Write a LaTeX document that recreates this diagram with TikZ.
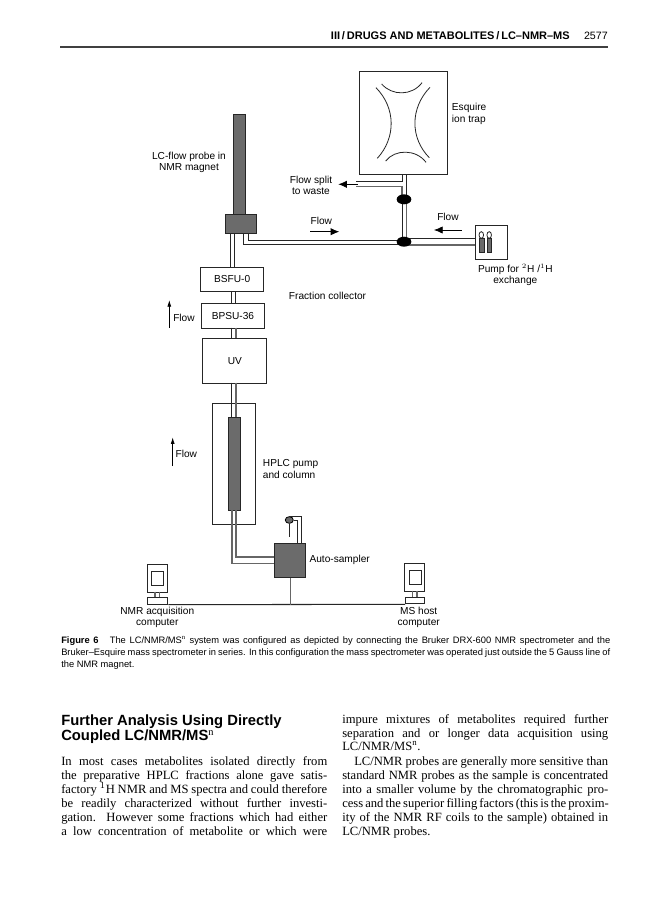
\documentclass[tikz,border=0pt]{standalone}
\usepackage{fontspec}
\setmainfont{Liberation Serif}
\setsansfont{Liberation Sans}
\newfontfamily\labfont{Liberation Sans}
\newdimen\pxunit \pxunit=0.75pt
\usetikzlibrary{arrows.meta,calc,shapes.geometric}
\tikzset{
  x=0.75pt,y=-0.75pt,
  pipe/.style={draw=black!85,line width=0.7pt},
  greypipe/.style={draw=black!60,line width=0.8pt},
  box/.style={draw=black!85,line width=0.75pt,fill=white,inner sep=0pt,rectangle,anchor=north west},
  dark/.style={draw=black!85,line width=0.75pt,fill=black!58,inner sep=0pt,rectangle,anchor=north west},
  lab/.style={font=\labfont\fontsize{7.6}{8.6}\selectfont,align=center,inner sep=0pt},
  labl/.style={lab,anchor=west,align=left},
  flowarrow/.style={draw=black,line width=0.6pt,-{Latex[length=6.5pt,width=5.5pt]}},
  thinarrow/.style={draw=black,line width=0.6pt,-{Latex[length=5pt,width=3pt]}},
  joint/.style={ellipse,fill=black,inner sep=0pt,minimum width=11pt,minimum height=7.5pt},
  arc/.style={draw=black!85,line width=0.6pt},
  bodyline/.style={anchor=base west,inner sep=0pt,font=\fontsize{9.45}{12}\selectfont},
  headline/.style={anchor=base west,inner sep=0pt,font=\sffamily\bfseries\fontsize{11.1}{13}\selectfont},
  capline/.style={anchor=base west,inner sep=0pt,font=\sffamily\fontsize{7}{8}\selectfont},
}
\newcommand{\bx}[6][box]{\node[#1,minimum width=#4*0.75pt,minimum height=#5*0.75pt] (#6) at (#2,#3) {};}
\begin{document}
\begin{tikzpicture}
\useasboundingbox (0,0) rectangle (668,900);
\fill[white] (0,0) rectangle (668,900);

% running head
\node[anchor=base east,inner sep=0pt,font=\sffamily\bfseries\fontsize{8.25}{9}\selectfont] (head) at (570,39.5) {III\,/\,DRUGS AND METABOLITES\,/\,LC--NMR--MS};
\node[anchor=base east,inner sep=0pt,font=\sffamily\fontsize{8}{9}\selectfont] (pageno) at (608,39.5) {2577};
\draw[draw=black!75,line width=0.9pt] (60,47) -- (608,47);

% ion trap
\bx{359.3}{70.7}{87.7}{103.6}{trap}
\draw[arc] (381.7,84) .. controls (392,96) and (412,96) .. (422,82.7);
\draw[arc] (376,87.7) .. controls (396,108) and (396,138) .. (377.3,158.3);
\draw[arc] (430,87.3) .. controls (410,108) and (410,138) .. (429.3,157.7);
\draw[arc] (385.7,161) .. controls (395,149) and (416,149) .. (426,162.3);
\node[labl] (esq) at (451.7,114) {Esquire\\ion trap};

% pump
\bx{475.3}{224.7}{31.4}{34}{pump}
\bx[dark]{479}{238.3}{4.6}{13.4}{vial1}
\bx[dark]{487}{238.3}{4.4}{13.4}{vial2}
\node[draw=black!85,ellipse,line width=0.6pt,inner sep=0pt,minimum width=3.4pt,minimum height=5pt] (vt1) at (481.3,235) {};
\node[draw=black!85,ellipse,line width=0.6pt,inner sep=0pt,minimum width=3.4pt,minimum height=5pt] (vt2) at (489.2,235) {};
\node[lab] (pumplab) at (515.3,275) {Pump for $^{2}$H /$^{1}$H\\exchange};

% probe
\bx[dark]{232.7}{114}{12.3}{100.3}{probe}
\bx[dark]{225}{214.3}{30.7}{18.7}{head2}
\node[lab] (probelab) at (189,162.5) {LC-flow probe in\\NMR magnet};

% boxes
\bx{200.3}{266.7}{62.7}{24.3}{bsfu}
\bx{201.3}{302.7}{62.4}{25}{bpsu}
\bx{202.3}{338.3}{64}{44.4}{uv}
\bx{212.3}{403.3}{43}{120.4}{hplc}
\bx[dark]{228}{416.7}{12}{93.6}{col}
\bx[dark]{274.3}{543.3}{31}{33.4}{auto}
\node[lab] at (bsfu.center) {BSFU-0};
\node[lab] at (bpsu.center) {BPSU-36};
\node[lab] at (uv.center) {UV};

% pipes: trap to split and joints
\coordinate (s1) at (356,181.7);
\coordinate (s2) at (356,186.7);
\draw[pipe] (402,174.3) |- (s1);
\draw[greypipe] (s2) -| (402,199.3);
\draw[pipe] (406.3,174.3) -- (406.3,199.3);
\draw[pipe] (402.3,199.3) -- (402.3,241.7);
\draw[greypipe] (406.7,199.3) -- (406.7,241.7);
% joint to pump
\draw[pipe] (404,238.3) -- (475.3,238.3);
\draw[greypipe] (404,245) -- (475.3,245);
% head to joint
\draw[pipe] (248.3,233) |- (404,240.3);
\draw[pipe] (243.3,233) |- (404,244.4);
% joints
\node[joint] (j1) at (404,199.3) {};
\node[joint] (j2) at (404,241.7) {};
% probe chain
\draw[pipe] (230,233) -- (230,266.7);
\draw[pipe] (234.7,233) -- (234.7,266.7);
\draw[pipe] (231.3,291) -- (231.3,302.7);
\draw[pipe] (235.7,291) -- (235.7,302.7);
\draw[pipe] (231.7,327.7) -- (231.7,338.3);
\draw[greypipe] (236,327.7) -- (236,338.3);
\draw[pipe] (231.7,382.7) -- (231.7,416.7);
\draw[greypipe] (236,382.7) -- (236,416.7);
% column to autosampler
\draw[greypipe] (232,510.3) |- (274.3,563.3);
\draw[greypipe] (236,510.3) |- (274.3,557);
% bottle
\node[ellipse,draw=black,fill=black!58,line width=0.6pt,inner sep=0pt,minimum width=6pt,minimum height=5pt] (bottle) at (289.3,520) {};
\draw[pipe] (289.3,536.7) -- (bottle.south);
\draw[pipe] (301.7,543.3) |- (bottle.north);
\draw[pipe] (297.3,543.3) |- (bottle.east);
\node[lab,anchor=west] (autolab) at (309.3,560) {Auto-sampler};

% computers
\bx{146.7}{563.7}{20.3}{28}{mon1}
\bx{150.7}{570.7}{12}{14.3}{scr1}
\bx{147.3}{597.3}{20}{6.4}{base1}
\draw[greypipe] (155,591.7) -- (155,597.3);
\draw[greypipe] (159.3,591.7) -- (159.3,597.3);
\bx{404.3}{563.3}{20}{27.4}{mon2}
\bx{408.7}{570}{12}{13.7}{scr2}
\bx{405}{596.7}{19.3}{6.6}{base2}
\draw[greypipe] (412.7,590.7) -- (412.7,596.7);
\draw[greypipe] (417,590.7) -- (417,596.7);
\draw[pipe,line width=0.8pt] (base1.south east) -- (base2.south west);
\draw[greypipe] (auto.south) -- (auto.south |- base1.south);
\node[lab] (nmrlab) at (157.3,617.5) {NMR acquisition\\computer};
\node[lab] (mslab) at (418.7,617.5) {MS host\\computer};

% labels and flow arrows
\node[lab] (splitlab) at (311,185.5) {Flow split\\to waste};
\coordinate (a1s) at (357.7,184.3); \coordinate (a1e) at (338.3,184.3);
\draw[flowarrow] (a1s) -- (a1e);
\node[lab] (f1) at (321.3,220.7) {Flow};
\coordinate (a2s) at (310.3,231.7); \coordinate (a2e) at (339.3,231.7);
\draw[flowarrow] (a2s) -- (a2e);
\node[lab] (f2) at (448,216.7) {Flow};
\coordinate (a3s) at (461.7,230); \coordinate (a3e) at (434,230);
\draw[flowarrow] (a3s) -- (a3e);
\node[labl] (fc) at (288.7,296) {Fraction collector};
\node[lab] (f3) at (184,318) {Flow};
\coordinate (a4s) at (169.3,327.7); \coordinate (a4e) at (169.3,300);
\draw[thinarrow] (a4s) -- (a4e);
\node[labl] (f4) at (175.3,453.5) {Flow};
\coordinate (a5s) at (172.7,466); \coordinate (a5e) at (172.7,437.3);
\draw[thinarrow] (a5s) -- (a5e);
\node[labl] (hplclab) at (262.7,469) {HPLC pump\\and column};

% caption
\node[capline] (c1) at (61,643.5) {\hbox to 549\pxunit{\textbf{Figure 6}\hspace{1.2em}The LC/NMR/MS$^{\mathrm{n}}$ system was configured as depicted by connecting the Bruker DRX-600 NMR spectrometer and the}};
\node[capline] (c2) at (61,655.5) {\hbox to 549\pxunit{Bruker--Esquire mass spectrometer in series. In this configuration the mass spectrometer was operated just outside the 5 Gauss line of}};
\node[capline] (c3) at (61,667.5) {the NMR magnet.};

% heading
\node[headline] (h1) at (61,725) {Further Analysis Using Directly};
\node[headline] (h2) at (61,740.7) {Coupled LC/NMR/MS$^{\mathrm{n}}$};

% left column
\node[bodyline] (l1) at (61,765) {\hbox to 266\pxunit{In most cases metabolites isolated directly from}};
\node[bodyline] (l2) at (61,779.3) {\hbox to 266\pxunit{the preparative HPLC fractions alone gave satis-}};
\node[bodyline] (l3) at (61,793.3) {\hbox to 266\pxunit{factory $^{1}$H NMR and MS spectra and could therefore}};
\node[bodyline] (l4) at (61,807.3) {\hbox to 266\pxunit{be readily characterized without further investi-}};
\node[bodyline] (l5) at (61,821.3) {\hbox to 266\pxunit{gation. However some fractions which had either}};
\node[bodyline] (l6) at (61,835) {\hbox to 266\pxunit{a low concentration of metabolite or which were}};

% right column
\node[bodyline] (r1) at (342,723.3) {\hbox to 266\pxunit{impure mixtures of metabolites required further}};
\node[bodyline] (r2) at (342,737.3) {\hbox to 266\pxunit{separation and or longer data acquisition using}};
\node[bodyline] (r3) at (342,750.7) {LC/NMR/MS$^{\mathrm{n}}$.};
\node[bodyline] (r4) at (354,765) {\hbox to 254\pxunit{LC/NMR probes are generally more sensitive than}};
\node[bodyline] (r5) at (342,779.3) {\hbox to 266\pxunit{standard NMR probes as the sample is concentrated}};
\node[bodyline] (r6) at (342,793.3) {\hbox to 266\pxunit{into a smaller volume by the chromatographic pro-}};
\node[bodyline] (r7) at (342,807.3) {\hbox to 266\pxunit{cess and the superior filling factors (this is the proxim-}};
\node[bodyline] (r8) at (342,821.3) {\hbox to 266\pxunit{ity of the NMR RF coils to the sample) obtained in}};
\node[bodyline] (r9) at (342,835) {LC/NMR probes.};
\end{tikzpicture}
\end{document}
